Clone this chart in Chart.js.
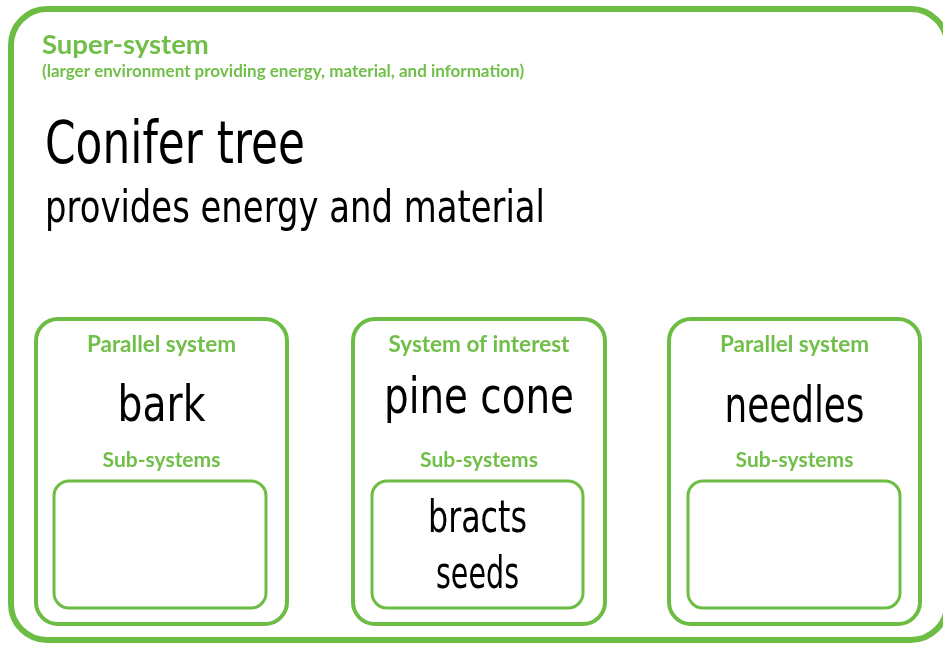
<!DOCTYPE html>
<html>
<head>
<meta charset="utf-8">
<script src="https://cdn.jsdelivr.net/npm/chart.js@4"></script>
<style>
html,body{margin:0;padding:0;background:#fff;}
#wrap{width:943px;height:647px;position:relative;}
</style>
</head>
<body>
<div id="wrap"><canvas id="c"></canvas></div>
<script>
// ---- content (data) ----
const superTitle = "Super-system";
const superSubtitle = "(larger environment providing energy, material, and information)";
const superItems = ["Conifer tree", "provides energy and material"];
const panelTitles = ["Parallel system", "System of interest", "Parallel system"];
const panelItems = ["bark", "pine cone", "needles"];
const subTitle = "Sub-systems";
const subItems = [[], ["bracts", "seeds"], []];

// ---- layout / style ----
const GREEN = "#6dbd45";
const TEXT_GREEN = "#70bf48";
const HAND = "'DejaVu Sans',sans-serif";
const UI = "Lato,'Open Sans',sans-serif";
const superItemStyle = [{size: 58, width: 260, y: 163}, {size: 44, width: 500, y: 222}];
const panelItemStyle = [{size: 50, width: 88, y: 421}, {size: 50, width: 190, y: 413}, {size: 50, width: 140, y: 422}];
const subItemStyle = [{size: 44, width: 99, y: 532}, {size: 44, width: 83, y: 588}];

function rr(ctx, x1, y1, x2, y2, r){
  ctx.beginPath();
  ctx.moveTo(x1 + r, y1);
  ctx.lineTo(x2 - r, y1);
  ctx.arcTo(x2, y1, x2, y1 + r, r);
  ctx.lineTo(x2, y2 - r);
  ctx.arcTo(x2, y2, x2 - r, y2, r);
  ctx.lineTo(x1 + r, y2);
  ctx.arcTo(x1, y2, x1, y2 - r, r);
  ctx.lineTo(x1, y1 + r);
  ctx.arcTo(x1, y1, x1 + r, y1, r);
  ctx.closePath();
}

// draw text squeezed horizontally to a target width (handwriting look)
function fitText(ctx, text, x, y, size, width, align){
  ctx.save();
  ctx.font = size + "px " + HAND;
  const w = ctx.measureText(text).width;
  const s = width / w;
  ctx.translate(x, y);
  ctx.scale(s, 1);
  ctx.textAlign = align;
  ctx.fillText(text, 0, 0);
  ctx.restore();
}

const diagramPlugin = {
  id: "diagram",
  afterDraw(chart){
    const ctx = chart.ctx;
    const X = v => chart.scales.x.getPixelForValue(v);
    const Y = v => chart.scales.y.getPixelForValue(v);
    ctx.save();
    // outer super-system box
    ctx.strokeStyle = GREEN;
    ctx.lineWidth = 6;
    rr(ctx, X(11), Y(9), X(947), Y(640), 36);
    ctx.stroke();

    ctx.textBaseline = "alphabetic";
    ctx.fillStyle = TEXT_GREEN;
    ctx.textAlign = "left";
    ctx.font = "bold 27.5px " + UI;
    ctx.fillText(superTitle, X(42), Y(54));
    ctx.font = "bold 17px " + UI;
    ctx.fillText(superSubtitle, X(42), Y(77));

    ctx.fillStyle = "#000";
    superItems.forEach((t, i) => {
      const st = superItemStyle[i];
      fitText(ctx, t, X(45), Y(st.y), st.size, st.width, "left");
    });

    const panelX = [[36, 287], [353, 605], [669, 920]];
    const subX = [[54, 266], [372, 583], [688, 900]];
    panelX.forEach((p, i) => {
      ctx.strokeStyle = GREEN;
      ctx.lineWidth = 4;
      rr(ctx, X(p[0]), Y(319), X(p[1]), Y(624), 22);
      ctx.stroke();
      ctx.lineWidth = 3;
      rr(ctx, X(subX[i][0]), Y(481), X(subX[i][1]), Y(608), 15);
      ctx.stroke();

      const cx = X((p[0] + p[1]) / 2);
      ctx.textAlign = "center";
      ctx.fillStyle = TEXT_GREEN;
      ctx.font = "bold 22.5px " + UI;
      ctx.fillText(panelTitles[i], cx, Y(352));
      ctx.font = "bold 21px " + UI;
      ctx.fillText(subTitle, cx, Y(467));

      ctx.fillStyle = "#000";
      const ps = panelItemStyle[i];
      fitText(ctx, panelItems[i], cx, Y(ps.y), ps.size, ps.width, "center");
      subItems[i].forEach((t, j) => {
        const ss = subItemStyle[j];
        fitText(ctx, t, X((subX[i][0] + subX[i][1]) / 2), Y(ss.y), ss.size, ss.width, "center");
      });
    });
    ctx.restore();
  }
};

new Chart(document.getElementById("c"), {
  type: "scatter",
  data: { datasets: [{ data: [], pointRadius: 0 }] },
  options: {
    responsive: true,
    maintainAspectRatio: false,
    animation: false,
    layout: { padding: 0 },
    plugins: { legend: { display: false }, tooltip: { enabled: false } },
    scales: {
      x: { type: "linear", min: 0, max: 943, display: false },
      y: { type: "linear", min: 0, max: 647, reverse: true, display: false }
    }
  },
  plugins: [diagramPlugin]
});
</script>
</body>
</html>
